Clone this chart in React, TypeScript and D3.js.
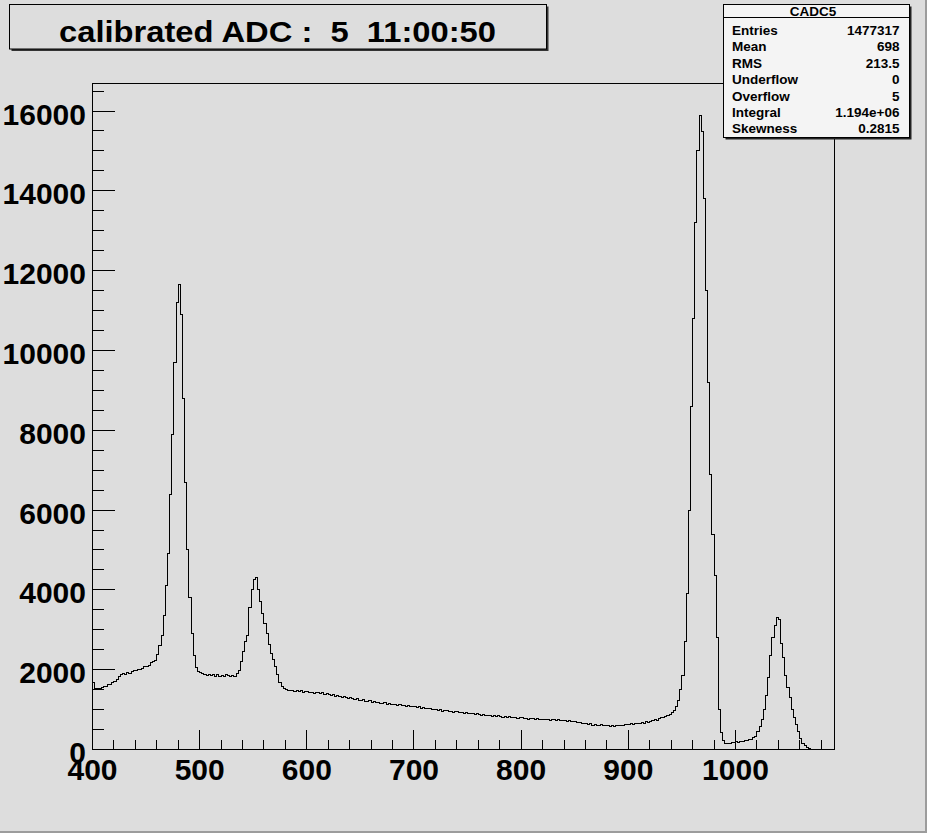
import React, { useEffect, useRef } from 'react';
import * as d3 from 'd3';

// histogram CADC5, 2-unit bins starting at 400
const binStart = 400;
const binWidth = 2;
const xMax = 1092.4;
const yMax = 16690;

const counts = [
    // 400 - 500
    1690, 1530, 1540, 1520, 1560, 1570, 1590, 1640, 1620, 1680,
    1700, 1760, 1820, 1870, 1910, 1890, 1920, 1910, 1950, 1990,
    1970, 2010, 2000, 2040, 2070, 2080, 2110, 2170, 2200, 2240,
    2380, 2600, 2850, 3350, 4100, 4900, 6400, 7900, 9700, 11200,
    11650, 10900, 8800, 6700, 5000, 3800, 2900, 2350, 2050, 1960,
    1930,
    // 502 - 578
    1900, 1880, 1860, 1890, 1850, 1870, 1820, 1880, 1840,
    1860, 1830, 1870, 1850, 1830, 1860, 1840, 1900, 1990, 2200,
    2450, 2700, 2850, 3550, 4000, 4250, 4320, 4000, 3700, 3400,
    3150, 2900, 2620, 2400, 2260, 2080, 1880, 1680, 1580, 1530,
    // 580 - 938
    1500, 1490, 1470, 1490, 1460, 1470, 1450, 1480, 1440, 1460,
    1450, 1430, 1440, 1410, 1430, 1420, 1400, 1420, 1380, 1400,
    1380, 1350, 1370, 1340, 1360, 1340, 1310, 1330, 1300, 1280,
    1300, 1270, 1260, 1280, 1240, 1230, 1250, 1210, 1200, 1220,
    1190, 1200, 1170, 1190, 1150, 1160, 1170, 1140, 1150, 1120,
    1130, 1140, 1110, 1120, 1100, 1110, 1090, 1100, 1070, 1090,
    1080, 1060, 1070, 1040, 1050, 1040, 1020, 1030, 1000, 1010,
    1000, 980, 990, 960, 980, 970, 950, 960, 930, 950,
    940, 920, 930, 900, 920, 910, 890, 900, 870, 890,
    880, 860, 870, 840, 860, 850, 830, 845, 820, 840,
    830, 810, 825, 800, 815, 810, 790, 800, 780, 795,
    790, 770, 785, 760, 775, 770, 750, 765, 745, 760,
    760, 740, 755, 730, 750, 745, 725, 740, 715, 730,
    720, 700, 715, 690, 700, 690, 670, 680, 650, 660,
    650, 630, 640, 610, 620, 610, 600, 615, 590, 600,
    595, 585, 600, 580, 600, 600, 610, 600, 620, 615,
    630, 640, 630, 650, 645, 660, 670, 660, 690, 680,
    710, 720, 740, 730, 780, 800, 790, 820, 840, 880,
    // 940 - 1070
    930, 980, 1080, 1240, 1500, 1850, 2700, 3900, 6000, 8600,
    10800, 13200, 15000, 15900, 15480, 13800, 11500, 9200, 6900, 5400,
    4350, 2800, 1000, 420, 220, 160, 150, 160, 170, 180,
    190, 185, 200, 210, 220, 230, 245, 260, 290, 320,
    450, 580, 760, 1000, 1350, 1800, 2350, 2800, 3100, 3300,
    3250, 2650, 2300, 1850, 1550, 1300, 1000, 800, 620, 440,
    280, 160, 100, 50, 20, 5,
    // 1072 - 1090
    0, 0, 0, 0, 0, 0, 0, 0, 0, 0,
];

const xMajor = [400, 500, 600, 700, 800, 900, 1000];
const yMajor = [0, 2000, 4000, 6000, 8000, 10000, 12000, 14000, 16000];

const titleText = 'calibrated ADC :  5  11:00:50';
const statsName = 'CADC5';
const statLabels = ['Entries', 'Mean', 'RMS', 'Underflow', 'Overflow', 'Integral', 'Skewness'];
const statValues = ['1477317', '698', '213.5', '0', '5', '1.194e+06', '0.2815'];

const W = 927;
const H = 833;
const BG = '#dddddd';
const FONT = '"Liberation Sans", Arial, Helvetica, sans-serif';

const App: React.FC = () => {
    const svgRef = useRef<SVGSVGElement>(null);

    useEffect(() => {
        if (!svgRef.current) return;
        const svg = d3.select(svgRef.current);
        svg.selectAll('*').remove();

        const x = d3.scaleLinear().domain([binStart, xMax]).range([92.5, 834.5]);
        const y = d3.scaleLinear().domain([0, yMax]).range([749.5, 83.5]);
        const px = (v: number) => Math.floor(v) + 0.5;

        // canvas
        svg.append('rect').attr('width', W).attr('height', H).attr('fill', BG);
        svg.append('rect').attr('x', W - 2).attr('y', 0).attr('width', 2).attr('height', H).attr('fill', '#9c9c9c');
        svg.append('rect').attr('x', 0).attr('y', H - 2).attr('width', W).attr('height', 2).attr('fill', '#9c9c9c');

        // title box
        svg.append('rect')
            .attr('x', 11.5).attr('y', 6.5).attr('width', 537).attr('height', 44.5)
            .attr('fill', '#333');
        svg.append('rect')
            .attr('x', 9.5).attr('y', 4.5).attr('width', 537).attr('height', 44.5)
            .attr('fill', BG).attr('stroke', '#000').attr('stroke-width', 1);
        svg.append('text')
            .attr('x', 59).attr('y', 42)
            .attr('font-family', FONT).attr('font-weight', 'bold').attr('font-size', 29)
            .attr('textLength', 437).attr('lengthAdjust', 'spacingAndGlyphs')
            .style('white-space', 'pre')
            .text(titleText);

        // frame
        svg.append('rect')
            .attr('x', x(binStart)).attr('y', y(yMax))
            .attr('width', x(xMax) - x(binStart)).attr('height', y(0) - y(yMax))
            .attr('fill', BG).attr('stroke', '#000').attr('stroke-width', 1)
            .attr('shape-rendering', 'crispEdges');

        // histogram outline
        const pts: [number, number][] = counts.map((c, i) => [binStart + i * binWidth, c]);
        pts.push([binStart + counts.length * binWidth, counts[counts.length - 1]]);
        const line = d3.line<[number, number]>()
            .x((d) => x(d[0]))
            .y((d) => y(d[1]))
            .curve(d3.curveStepAfter);
        svg.append('path')
            .attr('d', line(pts) || '')
            .attr('fill', 'none').attr('stroke', '#000').attr('stroke-width', 1)
            .attr('shape-rendering', 'crispEdges');

        // x ticks
        const g = svg.append('g').attr('stroke', '#000').attr('shape-rendering', 'crispEdges');
        d3.range(400, 1091, 20).forEach((v) => {
            const major = v % 100 === 0;
            g.append('line')
                .attr('x1', px(x(v))).attr('x2', px(x(v)))
                .attr('y1', y(0)).attr('y2', y(0) - (major ? 20 : 10));
        });
        // y ticks
        d3.range(0, 16501, 500).forEach((v) => {
            const major = v % 2000 === 0;
            g.append('line')
                .attr('x1', x(binStart)).attr('x2', x(binStart) + (major ? 22 : 11))
                .attr('y1', px(y(v))).attr('y2', px(y(v)));
        });

        // labels
        svg.append('g')
            .selectAll('text')
            .data(xMajor)
            .join('text')
            .attr('x', (d) => x(d))
            .attr('y', 780)
            .attr('text-anchor', 'middle')
            .attr('font-family', FONT).attr('font-weight', 'bold').attr('font-size', 30)
            .text((d) => String(d));
        svg.append('g')
            .selectAll('text')
            .data(yMajor)
            .join('text')
            .attr('x', 86)
            .attr('y', (d) => y(d) + 13.5)
            .attr('text-anchor', 'end')
            .attr('font-family', FONT).attr('font-weight', 'bold').attr('font-size', 30)
            .text((d) => String(d));

        // stats box
        const bx = 723.5, by = 4.5, bw = 186, bh = 133;
        svg.append('rect').attr('x', bx + 2).attr('y', by + 2).attr('width', bw).attr('height', bh).attr('fill', '#222');
        svg.append('rect').attr('x', bx).attr('y', by).attr('width', bw).attr('height', bh)
            .attr('fill', '#f4f4f4').attr('stroke', '#000').attr('stroke-width', 1);
        svg.append('line').attr('x1', bx).attr('x2', bx + bw).attr('y1', 17.5).attr('y2', 17.5)
            .attr('stroke', '#000');
        svg.append('text')
            .attr('x', 813).attr('y', 15.5).attr('text-anchor', 'middle')
            .attr('font-family', FONT).attr('font-weight', 'bold').attr('font-size', 13.5)
            .text(statsName);
        statLabels.forEach((lab, i) => {
            const yy = 35 + i * 16.4;
            svg.append('text')
                .attr('x', 732).attr('y', yy)
                .attr('font-family', FONT).attr('font-weight', 'bold').attr('font-size', 13.5)
                .text(lab);
            svg.append('text')
                .attr('x', 899.5).attr('y', yy).attr('text-anchor', 'end')
                .attr('font-family', FONT).attr('font-weight', 'bold').attr('font-size', 13.5)
                .text(statValues[i]);
        });
    }, []);

    return (
        <svg
            ref={svgRef}
            width={W}
            height={H}
            style={{ position: 'absolute', left: 0, top: 0, display: 'block' }}
        />
    );
};

export default App;
